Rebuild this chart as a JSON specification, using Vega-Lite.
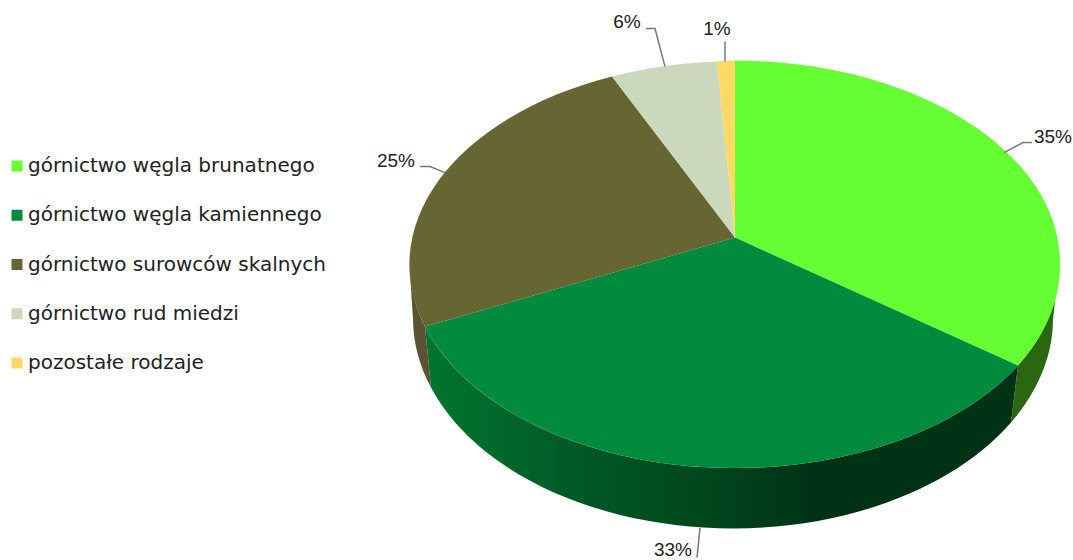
{"$schema":"https://vega.github.io/schema/vega-lite/v6.json","autosize":{"type":"fit","contains":"padding"},"width":1073,"height":560,"padding":0,"background":"white","view":{"stroke":null},
"data":{"values":[{"category":"górnictwo węgla brunatnego","share":0.35},{"category":"górnictwo węgla kamiennego","share":0.33},{"category":"górnictwo surowców skalnych","share":0.25},{"category":"górnictwo rud miedzi","share":0.06},{"category":"pozostałe rodzaje","share":0.01}]},
"encoding":{"x":{"datum":0,"type":"quantitative","axis":null,"scale":{"domain":[-735,338],"nice":false,"zero":false}},"y":{"datum":0,"type":"quantitative","axis":null,"scale":{"domain":[-322,238],"nice":false,"zero":false}}},
"layer":[
{"transform":[{"filter":"datum.category === 'górnictwo węgla brunatnego'"}],"mark":{"type":"point","filled":true,"opacity":1,"size":4,"strokeWidth":0,"fill":"#2b6610","shape":"M283,128 A325.5,203 0 0 0 320.5,59 L318,82 A320,210 0 0 1 276,185 Z"}},
{"transform":[{"filter":"datum.category === 'górnictwo węgla kamiennego'"}],"mark":{"type":"point","filled":true,"opacity":1,"size":4,"strokeWidth":0,"fill":{"gradient":"linear","x1":0,"x2":1,"y1":0,"y2":0,"stops":[{"offset":0,"color":"#00752f"},{"offset":0.25,"color":"#005a26"},{"offset":0.5,"color":"#00441c"},{"offset":0.65,"color":"#003316"},{"offset":1,"color":"#003316"}]},"shape":"M-310,89 L-304,150 A320,210 0 0 0 276,185 L283,128 A325.5,203 0 0 1 -310,89 Z"}},
{"transform":[{"filter":"datum.category === 'górnictwo surowców skalnych'"}],"mark":{"type":"point","filled":true,"opacity":1,"size":4,"strokeWidth":0,"fill":"#5a5230","shape":"M-325,35 A325.5,203 0 0 0 -310,89 L-304,150 A320,210 0 0 1 -322,82 Z"}},
{"transform":[{"filter":"datum.category === 'górnictwo węgla brunatnego'"}],"mark":{"type":"point","filled":true,"opacity":1,"size":4,"strokeWidth":0,"fill":"#66ff33","shape":"M0,0 L0,-177 A325.5,203 0 0 1 325,26 A325.5,203 0 0 1 283,128 Z"}},
{"transform":[{"filter":"datum.category === 'górnictwo węgla kamiennego'"}],"mark":{"type":"point","filled":true,"opacity":1,"size":4,"strokeWidth":0,"fill":"#008a3e","shape":"M0,0 L283,128 A325.5,203 0 0 1 -310,89 Z"}},
{"transform":[{"filter":"datum.category === 'górnictwo surowców skalnych'"}],"mark":{"type":"point","filled":true,"opacity":1,"size":4,"strokeWidth":0,"fill":"#666633","shape":"M0,0 L-310,89 A325.5,203 0 0 1 -123,-161 Z"}},
{"transform":[{"filter":"datum.category === 'górnictwo rud miedzi'"}],"mark":{"type":"point","filled":true,"opacity":1,"size":4,"strokeWidth":0,"fill":"#ccd8bb","shape":"M0,0 L-123,-161 A325.5,203 0 0 1 -18,-176 Z"}},
{"transform":[{"filter":"datum.category === 'pozostałe rodzaje'"}],"mark":{"type":"point","filled":true,"opacity":1,"size":4,"strokeWidth":0,"fill":"#ffd966","shape":"M0,0 L-18,-176 A325.5,203 0 0 1 0,-177 Z"}},
{"mark":{"type":"square","size":1,"opacity":1,"strokeWidth":0},"encoding":{
"color":{"field":"category","type":"nominal","scale":{"domain":["górnictwo węgla brunatnego","górnictwo węgla kamiennego","górnictwo surowców skalnych","górnictwo rud miedzi","pozostałe rodzaje"],"range":["#66ff33","#008a3e","#666633","#ccd8bb","#ffd966"]},"legend":{"orient":"none","legendX":7,"legendY":156,"title":null,"padding":0,"symbolType":"square","symbolSize":121,"symbolStrokeWidth":0,"symbolOpacity":1,"labelFont":"DejaVu Sans","labelFontSize":20,"labelColor":"#222222","labelOffset":1,"clipHeight":20,"rowPadding":29.25,"labelLimit":400}}}},
{"transform":[{"filter":"datum.category === 'górnictwo węgla brunatnego'"}],"mark":{"type":"point","filled":false,"opacity":1,"size":4,"strokeWidth":1.5,"stroke":"#777777","shape":"M269,-85 L288,-95 L297,-95"}},
{"transform":[{"filter":"datum.category === 'górnictwo węgla kamiennego'"}],"mark":{"type":"point","filled":false,"opacity":1,"size":4,"strokeWidth":1.5,"stroke":"#777777","shape":"M-35,290 L-38,320"}},
{"transform":[{"filter":"datum.category === 'górnictwo surowców skalnych'"}],"mark":{"type":"point","filled":false,"opacity":1,"size":4,"strokeWidth":1.5,"stroke":"#777777","shape":"M-290,-65 L-305,-71 L-315,-71"}},
{"transform":[{"filter":"datum.category === 'górnictwo rud miedzi'"}],"mark":{"type":"point","filled":false,"opacity":1,"size":4,"strokeWidth":1.5,"stroke":"#777777","shape":"M-70,-171 L-80,-209 L-89,-209"}},
{"transform":[{"filter":"datum.category === 'pozostałe rodzaje'"}],"mark":{"type":"point","filled":false,"opacity":1,"size":4,"strokeWidth":1.5,"stroke":"#777777","shape":"M-10,-176 L-10,-196"}},
{"transform":[{"filter":"datum.category === 'górnictwo węgla brunatnego'"}],"mark":{"type":"text","font":"Liberation Sans","fontSize":19,"color":"#222222","baseline":"middle","align":"center","dx":318,"dy":-101},"encoding":{"text":{"field":"share","type":"quantitative","format":".0%"}}},
{"transform":[{"filter":"datum.category === 'górnictwo węgla kamiennego'"}],"mark":{"type":"text","font":"Liberation Sans","fontSize":19,"color":"#222222","baseline":"middle","align":"center","dx":-62,"dy":312},"encoding":{"text":{"field":"share","type":"quantitative","format":".0%"}}},
{"transform":[{"filter":"datum.category === 'górnictwo surowców skalnych'"}],"mark":{"type":"text","font":"Liberation Sans","fontSize":19,"color":"#222222","baseline":"middle","align":"center","dx":-339,"dy":-77},"encoding":{"text":{"field":"share","type":"quantitative","format":".0%"}}},
{"transform":[{"filter":"datum.category === 'górnictwo rud miedzi'"}],"mark":{"type":"text","font":"Liberation Sans","fontSize":19,"color":"#222222","baseline":"middle","align":"center","dx":-108,"dy":-216},"encoding":{"text":{"field":"share","type":"quantitative","format":".0%"}}},
{"transform":[{"filter":"datum.category === 'pozostałe rodzaje'"}],"mark":{"type":"text","font":"Liberation Sans","fontSize":19,"color":"#222222","baseline":"middle","align":"center","dx":-18,"dy":-209},"encoding":{"text":{"field":"share","type":"quantitative","format":".0%"}}}
]}
